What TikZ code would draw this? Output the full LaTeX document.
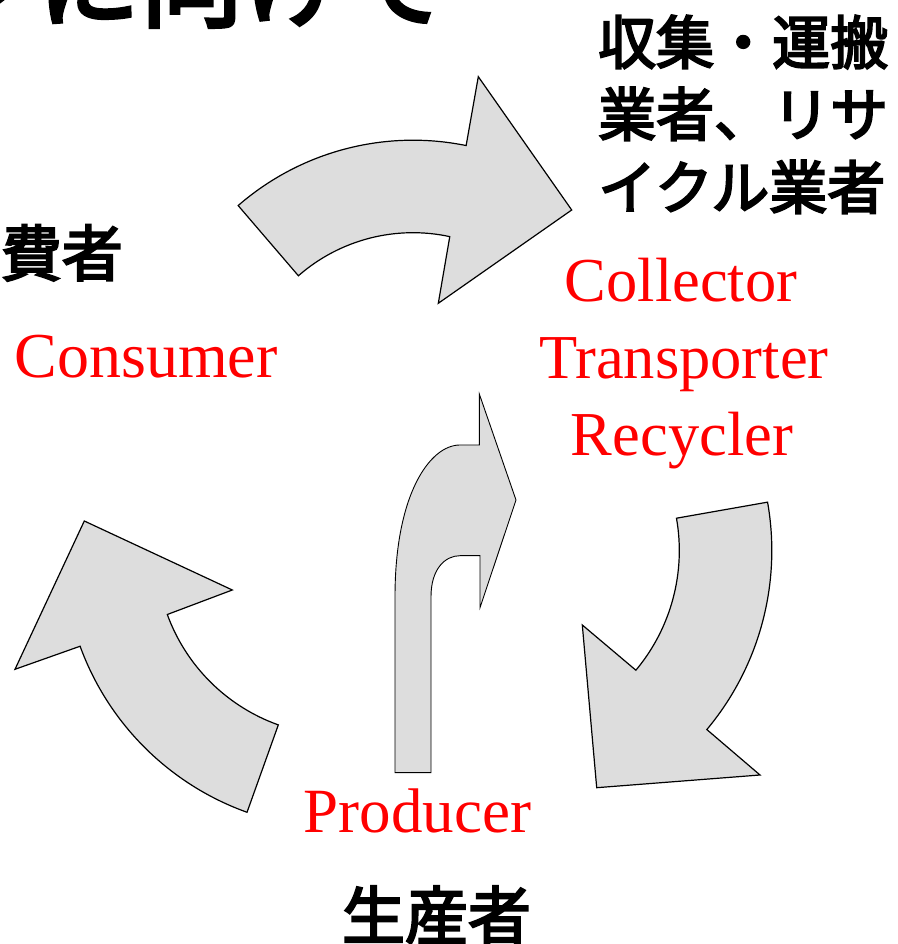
\documentclass[tikz,border=0pt]{standalone}
\usepackage{fontspec}
\usetikzlibrary{calc}
\setmainfont{Liberation Serif}
\newfontfamily\jp{Noto Sans CJK JP}[BoldFont={Noto Sans CJK JP},BoldFeatures={FakeBold=3.5}]
\begin{document}
\begin{tikzpicture}[x=1pt,y=1pt,
  arrowshape/.style={draw=black,line width=1.2pt,fill=gray!27,line join=miter},
  entxt/.style={text=red,inner sep=0pt,anchor=base,font=\fontsize{63}{75}\selectfont},
  jptxt/.style={inner sep=0pt,font=\jp\bfseries\fontsize{58}{70}\selectfont}]
\useasboundingbox (0,0) rectangle (897,944);
% title (cut at the top)
\node[jptxt,anchor=base west,font=\jp\bfseries\fontsize{103}{110}\selectfont] (title) at (-66,925) {ンに向けて};
% top arrow
\coordinate (c1) at (413,537.3);
\path[arrowshape] ($(c1)+(131:266.5)$) arc[start angle=131,end angle=78.5,radius=266.5]
  -- (478.3,867.3) -- (571.7,734) -- (438.3,640.7)
  -- ($(c1)+(77.8:174)$) arc[start angle=77.8,end angle=131.2,radius=174] -- cycle;
% right arrow
\coordinate (c2) at (492.8,393.4);
\path[arrowshape] ($(c2)+(10:279)$) arc[start angle=10,end angle=-39.9,radius=279]
  -- (760,169) -- (596.7,156.3) -- (582.3,319)
  -- ($(c2)+(-39.9:186.5)$) arc[start angle=-39.9,end angle=10,radius=186.5] -- cycle;
% left arrow
\coordinate (c3) at (340.4,392.5);
\path[arrowshape] ($(c3)+(250.3:277)$) arc[start angle=250.3,end angle=200,radius=277]
  -- (15,274.7) -- (84.3,423) -- (232.3,354)
  -- ($(c3)+(200:184.2)$) arc[start angle=200,end angle=250.3,radius=184.2] -- cycle;
% middle arrow
\path[arrowshape,line width=0.9pt] (395,171.3) -- (431,171.3) -- (431,347.3)
  .. controls (431,375) and (445,388.3) .. (460,388.3) -- (480,388.3) -- (480,336.3)
  -- (516,444) -- (479.3,550) -- (479.3,499) -- (460,499)
  .. controls (430,499) and (395,450) .. (395,347.3) -- cycle;
% Japanese labels
\node[jptxt,anchor=base west] (jr1) at (598,880) {収集・運搬};
\node[jptxt,anchor=base west] (jr2) at (598,808) {業者、リサ};
\node[jptxt,anchor=base west] (jr3) at (598,735) {イクル業者};
\node[jptxt,anchor=base east,font=\jp\bfseries\fontsize{61}{70}\selectfont] (jl) at (123,668) {消費者};
\node[jptxt,anchor=base,font=\jp\bfseries\fontsize{63}{70}\selectfont] (jb) at (436.5,5) {生産者};
% English labels
\node[entxt,font=\fontsize{64}{75}\selectfont] (consumer) at (146,566) {Consumer};
\node[entxt,font=\fontsize{62.5}{75}\selectfont] (collector) at (681,642) {Collector};
\node[entxt,font=\fontsize{62.5}{75}\selectfont] (transporter) at (684,565) {Transporter};
\node[entxt,font=\fontsize{62.5}{75}\selectfont] (recycler) at (682,488) {Recycler};
\node[entxt] (producer) at (417.5,111) {Producer};
\end{tikzpicture}
\end{document}
